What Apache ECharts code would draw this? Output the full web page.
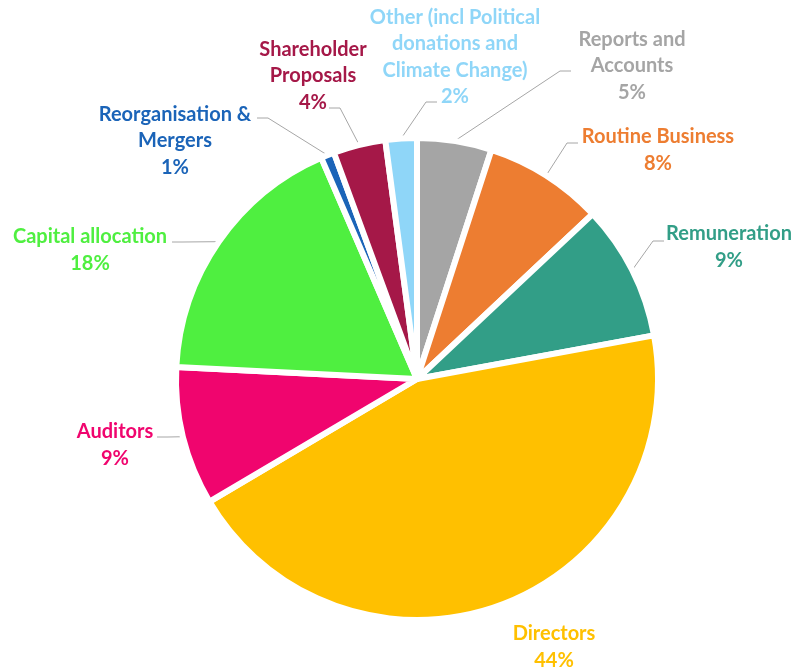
<!DOCTYPE html>
<html>
<head>
<meta charset="utf-8">
<script src="https://cdn.jsdelivr.net/npm/echarts@6/dist/echarts.min.js"></script>
<style>
  html, body { margin: 0; padding: 0; background: #fff; }
  #chart { width: 806px; height: 672px; }
</style>
</head>
<body>
<div id="chart"></div>
<script>
// categories clockwise from 12 o'clock
const categories = [
  'Reports and\nAccounts',
  'Routine Business',
  'Remuneration',
  'Directors',
  'Auditors',
  'Capital allocation',
  'Reorganisation &\nMergers',
  'Shareholder\nProposals',
  'Other (incl Political\ndonations and\nClimate Change)'
]
// share of votes (%), labels show the rounded value
const shares = [5.0, 8.0, 9.1, 44.4, 9.3, 17.7, 0.9, 3.5, 2.1]
const colors = ['#A5A5A5', '#ED7D31', '#329E87', '#FFC000', '#F0056E', '#4FEF40', '#1B64B8', '#A51848', '#8FD6F8']

// label placement (block centre) and where the leader line meets the text
const labelPos = [[632, 66], [658, 150], [729, 247], [554, 647], [115, 445], [90, 250], [175, 141], [313, 76], [455, 57]]
const lineEnd = [[571, 71], [578, 143], [664, 241], null, [157, 437], [172, 242], [257, 118], [329, 108], [437, 102]]

const myChart = echarts.init(document.getElementById('chart'))

const data = categories.map((name, i) => ({
  name: name,
  value: shares[i],
  itemStyle: { color: colors[i] },
  label: { color: colors[i] },
  labelLine: { show: lineEnd[i] != null }
}))

myChart.setOption({
  animation: false,
  series: [
    {
      type: 'pie',
      center: [417, 379],
      radius: 241,
      startAngle: 90,
      clockwise: true,
      percentPrecision: 0,
      avoidLabelOverlap: false,
      itemStyle: {
        borderColor: '#fff',
        borderWidth: 6,
        borderJoin: 'round'
      },
      label: {
        show: true,
        position: 'outside',
        formatter: '{b}\n{d}%',
        fontFamily: 'Lato',
        fontWeight: 'bold',
        fontSize: 20,
        lineHeight: 26.5,
        width: 240,
        overflow: 'none'
      },
      labelLine: {
        show: true,
        length: 15,
        length2: 10,
        lineStyle: { color: '#A6A6A6', width: 1 }
      },
      labelLayout: function (params) {
        const i = params.dataIndex
        const res = {
          x: labelPos[i][0],
          y: labelPos[i][1],
          align: 'center',
          verticalAlign: 'middle'
        }
        const pts = params.labelLinePoints
        if (lineEnd[i] && pts && pts.length) {
          const p0 = pts[0]
          const end = lineEnd[i]
          const bend = [end[0] + (end[0] < p0[0] ? 11 : -11), end[1]]
          res.labelLinePoints = [p0, bend, end]
        }
        return res
      },
      data: data
    }
  ]
})
</script>
</body>
</html>
